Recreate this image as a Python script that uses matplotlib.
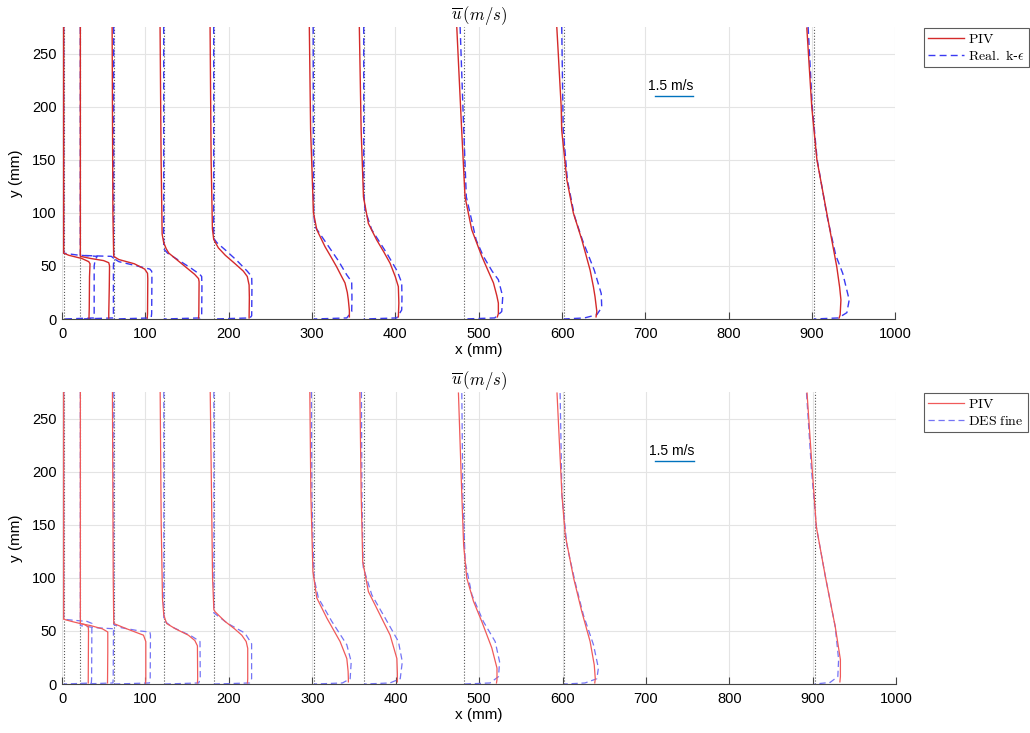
import matplotlib
matplotlib.use("Agg")
import matplotlib.pyplot as plt
from matplotlib.lines import Line2D

plt.rcParams['font.family'] = ['Liberation Sans', 'DejaVu Sans']
plt.rcParams['mathtext.fontset'] = 'cm'

# stations (mm) where the profiles are measured
stations = [2, 22, 62, 122, 182, 302, 362, 482, 602, 902]
scale_mm = 31.0        # mm of x per 1 m/s
ref_speed = 1.5        # m/s, reference bar

# profiles: list of (y mm, u m/s) per station
piv_top = [
    [(275, 0), (62, 0), (60, 0.2), (57, 0.7), (54, 0.97), (52, 1.02), (40, 1.0), (10, 0.99), (1, 0.98)],
    [(275, 0), (59, 0), (57, 0.4), (55, 0.9), (53, 1.1), (50, 1.13), (30, 1.12), (5, 1.1), (1, 1.1)],
    [(275, -0.06), (100, -0.03), (59, 0), (56, 0.2), (52, 0.8), (47, 1.2), (43, 1.31), (38, 1.32), (5, 1.31), (1, 1.3)],
    [(275, -0.14), (150, -0.1), (80, -0.06), (72, 0), (66, 0.1), (62, 0.2), (50, 0.8), (42, 1.2), (38, 1.35),
     (35, 1.37), (5, 1.36), (1, 1.35)],
    [(275, -0.14), (150, -0.1), (85, -0.05), (75, 0), (67, 0.18), (60, 0.45), (52, 0.83), (45, 1.15), (40, 1.3),
     (32, 1.37), (20, 1.38), (1, 1.37)],
    [(275, -0.17), (178, -0.12), (100, -0.01), (84, 0.12), (68, 0.44), (58, 0.68), (49, 0.89), (40, 1.08),
     (34, 1.21), (25, 1.3), (18, 1.34), (8, 1.38), (2, 1.38)],
    [(275, -0.17), (178, -0.1), (115, -0.01), (90, 0.18), (74.5, 0.5), (63, 0.78), (52.5, 1.02), (40, 1.22),
     (30.5, 1.34), (15, 1.36), (2, 1.34)],
    [(275, -0.27), (178, -0.08), (115, 0.05), (84, 0.31), (59, 0.7), (45, 0.95), (34, 1.15), (22, 1.28),
     (15, 1.34), (5, 1.34), (2, 1.3)],
    [(275, -0.27), (249, -0.21), (200, -0.1), (178, -0.08), (131, 0.12), (100, 0.37), (74.5, 0.7), (46, 1.02),
     (30, 1.15), (21, 1.21), (7, 1.28), (2, 1.25)],
    [(274, -0.27), (200, -0.08), (150, 0.12), (100, 0.5), (49, 0.89), (30, 1.0), (18, 1.05), (4, 1.02), (1, 0.98)],
]

rke_top = [
    [(275, 0), (62, 0), (60, 0.6), (59, 1.3), (56, 1.22), (50, 1.18), (1, 1.18), (0, 0)],
    [(275, 0), (60, 0), (59.5, 0.5), (59, 1.2), (57, 1.3), (50, 1.28), (5, 1.28), (1, 1.27), (0, 0)],
    [(275, 0), (57, 0), (54, 0.2), (50, 0.9), (47, 1.4), (45, 1.47), (40, 1.48), (5, 1.47), (1, 1.45), (0, 0)],
    [(275, 0), (66, 0), (62, 0.15), (55, 0.6), (48, 1.05), (42, 1.4), (40, 1.47), (30, 1.48), (3, 1.47),
     (1, 1.4), (0, 0)],
    [(275, 0), (76, 0), (72, 0.12), (65, 0.45), (55, 0.9), (45, 1.3), (40, 1.47), (30, 1.48), (3, 1.47),
     (1, 1.4), (0, 0)],
    [(275, -0.02), (150, -0.01), (100, 0), (87, 0.05), (71, 0.5), (55, 0.95), (41.5, 1.28), (35, 1.47),
     (20, 1.48), (7, 1.47), (1, 1.28), (0, 0)],
    [(275, 0), (120, 0), (103, 0.05), (84, 0.31), (62, 0.89), (45, 1.3), (34, 1.47), (20, 1.48), (8.5, 1.47),
     (1, 1.28), (0, 0)],
    [(275, -0.14), (178, 0), (115, 0.1), (74.5, 0.48), (59, 0.76), (45, 1.1), (37, 1.34), (21, 1.51), (7, 1.47),
     (1, 1.2), (0, 0)],
    [(275, -0.08), (178, -0.02), (131, 0.14), (96.5, 0.42), (74.5, 0.72), (46, 1.18), (24, 1.45), (11, 1.47),
     (4, 1.28), (1, 0.8), (0, 0)],
    [(275, -0.22), (200, -0.06), (150, 0.13), (96, 0.52), (60, 0.85), (43, 1.12), (18, 1.37), (6, 1.28),
     (1, 0.95), (0, 0)],
]

piv_bot = [
    [(275, 0), (61, 0), (59, 0.3), (56, 0.8), (54, 0.95), (50, 0.96), (5, 0.95), (1, 0.95)],
    [(275, 0), (57, 0), (55, 0.4), (52, 0.85), (49, 1.06), (30, 1.06), (1, 1.05)],
    [(275, -0.05), (100, -0.02), (57, 0), (55, 0.2), (52.5, 0.45), (46, 1.15), (40, 1.24), (5, 1.24), (1, 1.23)],
    [(275, -0.14), (150, -0.1), (80, -0.05), (65, 0), (57, 0.11), (52, 0.45), (46, 0.95), (41, 1.2), (36, 1.3),
     (5, 1.31), (1, 1.3)],
    [(275, -0.14), (100, -0.05), (70, 0), (68, 0.05), (59, 0.43), (52, 0.8), (46, 1.08), (40, 1.25),
     (33.6, 1.31), (5, 1.31), (1, 1.3)],
    [(275, -0.16), (178, -0.12), (106, -0.04), (81, 0.11), (62, 0.5), (40, 1.01), (24, 1.27), (12, 1.32),
     (5, 1.33), (2, 1.33)],
    [(275, -0.16), (178, -0.11), (115, -0.05), (87, 0.17), (68, 0.56), (46, 1.01), (24, 1.27), (10, 1.29),
     (2, 1.29)],
    [(274, -0.22), (178, -0.09), (131, -0.02), (100, 0.1), (78, 0.36), (59, 0.68), (34, 1.07), (15, 1.27),
     (4, 1.27), (1, 1.25)],
    [(274, -0.28), (178, -0.09), (140, 0.04), (100, 0.36), (68, 0.68), (40, 1.0), (18, 1.16), (5, 1.2), (1, 1.18)],
    [(274, -0.29), (202, -0.09), (148, 0.07), (101, 0.42), (54, 0.8), (23, 1.0), (7, 1.0), (2, 0.98)],
]

des_bot = [
    [(275, 0), (61, 0), (60, 0.4), (59, 0.9), (57, 1.1), (54, 1.09), (5, 1.08), (1, 1.07), (0, 0)],
    [(275, 0), (55, 0), (53, 0.6), (52, 1.35), (50, 1.28), (5, 1.27), (1, 1.26), (0, 0)],
    [(275, 0), (56, 0), (53, 0.3), (50, 1.0), (49, 1.4), (46, 1.42), (5, 1.41), (1, 1.38), (0, 0)],
    [(275, 0), (60, 0), (54, 0.3), (45, 1.08), (40, 1.4), (5, 1.41), (1, 1.35), (0, 0)],
    [(275, 0), (67, 0), (57, 0.54), (48, 1.2), (38, 1.46), (5, 1.46), (1, 1.38), (0, 0)],
    [(275, -0.1), (178, -0.08), (100, 0), (81, 0.17), (59, 0.69), (37, 1.27), (21, 1.44), (5, 1.4), (1, 1.1), (0, 0)],
    [(275, -0.1), (178, -0.08), (110, -0.03), (84, 0.3), (62, 0.82), (40, 1.33), (21, 1.48), (5, 1.4), (1, 1.0),
     (0, 0)],
    [(274, -0.09), (178, -0.05), (115, 0.04), (84, 0.3), (59, 0.74), (40, 1.2), (21, 1.37), (7, 1.33), (1, 1.0),
     (0, 0)],
    [(274, -0.16), (178, -0.09), (131, 0.1), (96, 0.42), (65, 0.74), (37, 1.13), (15, 1.32), (5, 1.26), (1, 0.8),
     (0, 0)],
    [(274, -0.31), (202, -0.12), (148, 0.07), (101, 0.42), (54, 0.8), (23, 0.93), (7, 0.9), (1.5, 0.6), (0, 0)],
]

panels = [
    (piv_top, rke_top, r'$\mathrm{Real.\ k}$-$\epsilon$', '#d42a2a', '#3a3af2', 1.0, [0.0602, 0.5648, 0.8092, 0.3984], 0.962),
    (piv_bot, des_bot, r'$\mathrm{DES\ fine}$', '#f05a5a', '#7474f5', 0.9, [0.0602, 0.0668, 0.8100, 0.3984], 0.464),
]

fig = plt.figure(figsize=(10.30, 7.33), dpi=100)

for piv, model, model_name, c_red, c_blue, lw, pos, leg_top in panels:
    ax = fig.add_axes(pos)

    for xs in stations:
        ax.plot([xs, xs], [0, 275], ls=':', c='#555555', lw=0.8, zorder=1)

    for xs, prof in zip(stations, piv):
        y, u = zip(*prof)
        ax.plot([xs + scale_mm * v for v in u], y, c=c_red, lw=lw, zorder=3)
    for xs, prof in zip(stations, model):
        y, u = zip(*prof)
        ax.plot([xs + scale_mm * v for v in u], y, c=c_blue, lw=lw, ls=(0, (5, 3)), zorder=2)

    # reference bar
    ax.plot([711, 711 + scale_mm * ref_speed], [210, 210], c='#0072bd', lw=1.0)
    ax.text(703, 213, '1.5 m/s', fontsize=10, ha='left', va='bottom')

    ax.set_xlim(0, 1000)
    ax.set_ylim(0, 275)
    ax.set_xticks(range(0, 1001, 100))
    ax.set_yticks(range(0, 251, 50))
    ax.grid(True, color='#e4e4e4', lw=0.8)
    ax.set_axisbelow(True)
    for s in ['top', 'left', 'right']:
        ax.spines[s].set_visible(False)
    ax.spines['bottom'].set_color('#444444')
    ax.spines['bottom'].set_linewidth(0.8)
    ax.tick_params(axis='x', direction='in', length=5, width=0.8, color='#444444', labelsize=10.5, pad=6)
    ax.tick_params(axis='y', length=0, labelsize=10.5, pad=4)
    ax.set_xlabel('x (mm)', fontsize=11, labelpad=1)
    ax.set_ylabel('y (mm)', fontsize=11, labelpad=6)
    ax.set_title(r'$\overline{u}\,(m/s)$', fontsize=12, pad=4)

    handles = [Line2D([], [], c=c_red, lw=lw), Line2D([], [], c=c_blue, lw=lw, ls=(0, (5, 3)))]
    leg = fig.legend(handles, [r'$\mathrm{PIV}$', model_name], loc='upper left',
                     bbox_to_anchor=(0.897, leg_top), fontsize=10, frameon=True, fancybox=False,
                     borderpad=0.3, handlelength=2.6, handletextpad=0.3, labelspacing=0.2, borderaxespad=0)
    leg.get_frame().set_edgecolor('#333333')
    leg.get_frame().set_linewidth(0.8)

fig.savefig('out.png', dpi=100)
